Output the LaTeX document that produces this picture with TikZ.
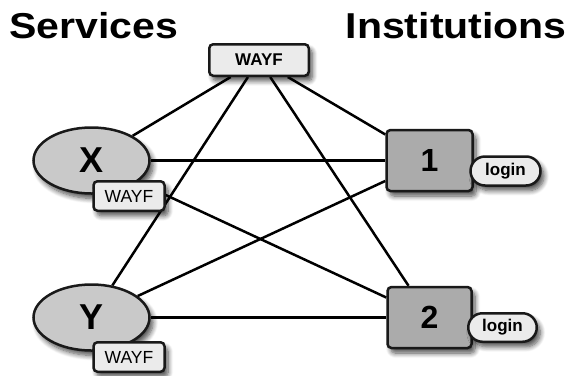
\documentclass[tikz,border=0pt]{standalone}
\usepackage{fontspec}
\setmainfont{Liberation Sans}
\usetikzlibrary{shapes.geometric,shapes.misc,shadows.blur}
\pgfdeclarelayer{background}
\pgfsetlayers{background,main}

\tikzset{
  shade/.style={blur shadow={shadow xshift=3.5pt, shadow yshift=-5pt,
      shadow blur radius=5pt, shadow blur steps=8, shadow opacity=70}},
  base/.style={draw=black!90, line width=2.5pt, inner sep=0pt, shade},
  service/.style={base, ellipse, fill=black!21,
      minimum width=116pt, minimum height=66pt,
      font=\fontsize{36}{40}\selectfont\bfseries},
  inst/.style={base, rectangle, rounded corners=4pt, fill=black!33,
      minimum width=86pt, minimum height=61pt,
      font=\fontsize{32}{36}\selectfont\bfseries},
  wayfbox/.style={base, rectangle, rounded corners=4pt, fill=black!8,
      minimum width=71pt, minimum height=29.5pt,
      font=\fontsize{17.5}{20}\selectfont},
  topwayf/.style={wayfbox, minimum width=99.5pt, minimum height=31.5pt,
      font=\fontsize{17}{20}\selectfont\bfseries},
  loginbox/.style={base, rounded rectangle, fill=black!8,
      minimum width=70pt, minimum height=29pt,
      font=\fontsize{17}{20}\selectfont\bfseries},
  title/.style={inner sep=0pt, xscale=1.14,
      font=\fontsize{36}{40}\selectfont\bfseries},
  link/.style={line width=2.5pt, black}
}

\begin{document}
\begin{tikzpicture}[x=1pt, y=-1pt]
  \useasboundingbox (0,0) rectangle (569,375);

  % column headings
  \node[title, anchor=base west] (svc) at (9,38) {Services};
  \node[title, anchor=base east] (ins) at (567,38) {Institutions};

  % central discovery service
  \node[topwayf] (wayf) at (259,60) {WAYF};

  % services with their own WAYF
  \node[service] (X) at (91.5,160.5) {X};
  \node[wayfbox] (xw) at (129,196) {WAYF};
  \node[service] (Y) at (91.5,317.5) {Y};
  \node[wayfbox] (yw) at (129,357) {WAYF};

  % institutions with their login pages
  \node[inst] (n1) at (429.5,160.5) {1};
  \node[loginbox] (l1) at (505.5,171) {login};
  \node[inst, minimum width=84pt] (n2) at (429.5,317.5) {2};
  \node[loginbox, minimum width=68.5pt, minimum height=28.5pt] (l2) at (502.5,327.5) {login};

  % connections
  \begin{pgfonlayer}{background}
    \draw[link] (wayf) -- (X);
    \draw[link] (wayf) -- (Y);
    \draw[link] (wayf) -- (n1);
    \draw[link] (wayf) -- (n2);
    \draw[link] (X) -- (n1);
    \draw[link] (X) -- (n2);
    \draw[link] (Y) -- (n1);
    \draw[link] (Y) -- (n2);
  \end{pgfonlayer}
\end{tikzpicture}
\end{document}
